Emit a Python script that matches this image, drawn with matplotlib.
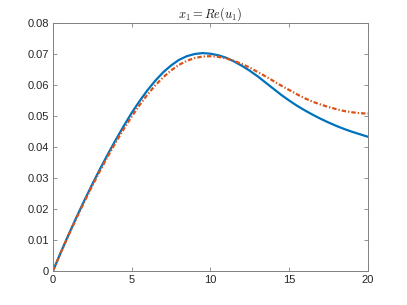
import matplotlib
matplotlib.use("Agg")
import matplotlib.pyplot as plt

# values
x_blue = [0, 0.5, 1, 1.5, 2, 2.5, 3, 3.5, 4, 4.5, 5, 5.5, 6, 6.5, 7, 7.5, 8, 8.5, 9, 9.5,
          10, 10.5, 11, 11.5, 12, 12.5, 13, 13.5, 14, 14.5, 15, 15.5, 16, 16.5, 17, 17.5,
          18, 18.5, 19, 19.5, 20]
y_blue = [0, 0.0060, 0.0118, 0.0174, 0.0228, 0.0280, 0.0330, 0.0378, 0.0424, 0.0468,
          0.0510, 0.0548, 0.0583, 0.0614, 0.0641, 0.0663, 0.0681, 0.0693, 0.0700, 0.0703,
          0.0701, 0.0696, 0.0688, 0.0676, 0.0662, 0.0646, 0.0628, 0.0608, 0.0588, 0.0568,
          0.0550, 0.0533, 0.0518, 0.0504, 0.0491, 0.0479, 0.0468, 0.0458, 0.0449, 0.0441,
          0.0433]

x_red = x_blue
y_red = [0, 0.0059, 0.0116, 0.0171, 0.0224, 0.0275, 0.0324, 0.0371, 0.0416, 0.0458,
         0.0498, 0.0535, 0.0569, 0.0599, 0.0625, 0.0647, 0.0665, 0.0678, 0.0687, 0.0692,
         0.0693, 0.0691, 0.0686, 0.0678, 0.0668, 0.0656, 0.0642, 0.0628, 0.0613, 0.0598,
         0.0584, 0.0570, 0.0557, 0.0546, 0.0537, 0.0529, 0.0522, 0.0516, 0.0512, 0.0509,
         0.0508]

x_ticks = [0, 5, 10, 15, 20]
y_ticks = [0, 0.01, 0.02, 0.03, 0.04, 0.05, 0.06, 0.07, 0.08]
y_labels = ["0", "0.01", "0.02", "0.03", "0.04", "0.05", "0.06", "0.07", "0.08"]

plt.rcParams["font.family"] = ["Liberation Sans", "DejaVu Sans"]
plt.rcParams["mathtext.fontset"] = "cm"

fig = plt.figure(figsize=(4.07, 3.05), dpi=100)
ax = fig.add_axes([0.130, 0.1115, 0.774, 0.813])

ax.plot(x_blue, y_blue, color="#0072BD", linewidth=1.6)
ax.plot(x_red, y_red, color="#D95319", linewidth=1.6, linestyle=(0, (2, 0.9, 0.6, 0.9)))

ax.set_xlim(0, 20)
ax.set_ylim(0, 0.08)
ax.set_xticks(x_ticks)
ax.set_xticklabels([str(t) for t in x_ticks])
ax.set_yticks(y_ticks)
ax.set_yticklabels(y_labels)

ax.tick_params(direction="in", length=3, width=0.6, colors="#808080",
               labelcolor="#262626", labelsize=8, top=True, right=True, pad=3)
for s in ax.spines.values():
    s.set_color("#808080")
    s.set_linewidth(0.7)

ax.set_title(r"$x_1 = Re(u_1)$", fontsize=9, pad=4, color="#1a1a1a")

fig.savefig("out.png", dpi=100)
